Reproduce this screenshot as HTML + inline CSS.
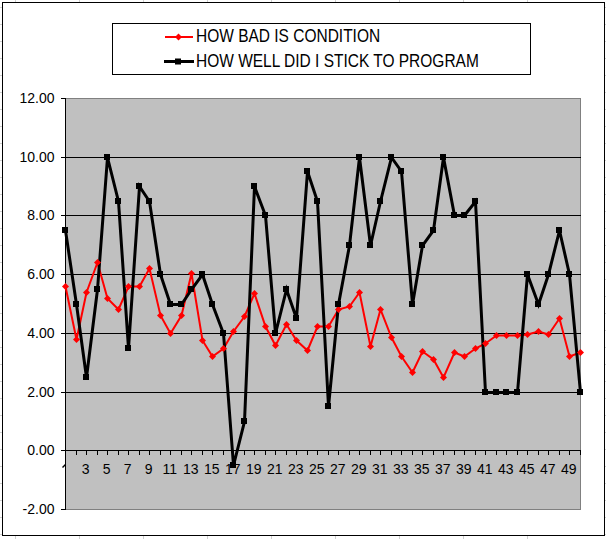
<!DOCTYPE html><html><head><meta charset="utf-8"><style>html,body{margin:0;padding:0;background:#fff;}svg{display:block;font-family:"Liberation Sans",sans-serif;}</style></head><body>
<svg width="606" height="539" viewBox="0 0 606 539">
<rect x="0" y="0" width="606" height="539" fill="#fff"/>
<rect x="15" y="0" width="1" height="2" fill="#d0d0d0"/>
<rect x="15" y="536" width="1" height="3" fill="#d0d0d0"/>
<rect x="79" y="0" width="1" height="2" fill="#d0d0d0"/>
<rect x="79" y="536" width="1" height="3" fill="#d0d0d0"/>
<rect x="143" y="0" width="1" height="2" fill="#d0d0d0"/>
<rect x="143" y="536" width="1" height="3" fill="#d0d0d0"/>
<rect x="207" y="0" width="1" height="2" fill="#d0d0d0"/>
<rect x="207" y="536" width="1" height="3" fill="#d0d0d0"/>
<rect x="271" y="0" width="1" height="2" fill="#d0d0d0"/>
<rect x="271" y="536" width="1" height="3" fill="#d0d0d0"/>
<rect x="335" y="0" width="1" height="2" fill="#d0d0d0"/>
<rect x="335" y="536" width="1" height="3" fill="#d0d0d0"/>
<rect x="399" y="0" width="1" height="2" fill="#d0d0d0"/>
<rect x="399" y="536" width="1" height="3" fill="#d0d0d0"/>
<rect x="463" y="0" width="1" height="2" fill="#d0d0d0"/>
<rect x="463" y="536" width="1" height="3" fill="#d0d0d0"/>
<rect x="527" y="0" width="1" height="2" fill="#d0d0d0"/>
<rect x="527" y="536" width="1" height="3" fill="#d0d0d0"/>
<rect x="0" y="7" width="2" height="1" fill="#d0d0d0"/>
<rect x="605" y="7" width="1" height="1" fill="#d0d0d0"/>
<rect x="0" y="24" width="2" height="1" fill="#d0d0d0"/>
<rect x="605" y="24" width="1" height="1" fill="#d0d0d0"/>
<rect x="0" y="41" width="2" height="1" fill="#d0d0d0"/>
<rect x="605" y="41" width="1" height="1" fill="#d0d0d0"/>
<rect x="0" y="58" width="2" height="1" fill="#d0d0d0"/>
<rect x="605" y="58" width="1" height="1" fill="#d0d0d0"/>
<rect x="0" y="75" width="2" height="1" fill="#d0d0d0"/>
<rect x="605" y="75" width="1" height="1" fill="#d0d0d0"/>
<rect x="0" y="92" width="2" height="1" fill="#d0d0d0"/>
<rect x="605" y="92" width="1" height="1" fill="#d0d0d0"/>
<rect x="0" y="109" width="2" height="1" fill="#d0d0d0"/>
<rect x="605" y="109" width="1" height="1" fill="#d0d0d0"/>
<rect x="0" y="126" width="2" height="1" fill="#d0d0d0"/>
<rect x="605" y="126" width="1" height="1" fill="#d0d0d0"/>
<rect x="0" y="143" width="2" height="1" fill="#d0d0d0"/>
<rect x="605" y="143" width="1" height="1" fill="#d0d0d0"/>
<rect x="0" y="160" width="2" height="1" fill="#d0d0d0"/>
<rect x="605" y="160" width="1" height="1" fill="#d0d0d0"/>
<rect x="0" y="177" width="2" height="1" fill="#d0d0d0"/>
<rect x="605" y="177" width="1" height="1" fill="#d0d0d0"/>
<rect x="0" y="194" width="2" height="1" fill="#d0d0d0"/>
<rect x="605" y="194" width="1" height="1" fill="#d0d0d0"/>
<rect x="0" y="211" width="2" height="1" fill="#d0d0d0"/>
<rect x="605" y="211" width="1" height="1" fill="#d0d0d0"/>
<rect x="0" y="228" width="2" height="1" fill="#d0d0d0"/>
<rect x="605" y="228" width="1" height="1" fill="#d0d0d0"/>
<rect x="0" y="245" width="2" height="1" fill="#d0d0d0"/>
<rect x="605" y="245" width="1" height="1" fill="#d0d0d0"/>
<rect x="0" y="262" width="2" height="1" fill="#d0d0d0"/>
<rect x="605" y="262" width="1" height="1" fill="#d0d0d0"/>
<rect x="0" y="279" width="2" height="1" fill="#d0d0d0"/>
<rect x="605" y="279" width="1" height="1" fill="#d0d0d0"/>
<rect x="0" y="296" width="2" height="1" fill="#d0d0d0"/>
<rect x="605" y="296" width="1" height="1" fill="#d0d0d0"/>
<rect x="0" y="313" width="2" height="1" fill="#d0d0d0"/>
<rect x="605" y="313" width="1" height="1" fill="#d0d0d0"/>
<rect x="0" y="330" width="2" height="1" fill="#d0d0d0"/>
<rect x="605" y="330" width="1" height="1" fill="#d0d0d0"/>
<rect x="0" y="347" width="2" height="1" fill="#d0d0d0"/>
<rect x="605" y="347" width="1" height="1" fill="#d0d0d0"/>
<rect x="0" y="364" width="2" height="1" fill="#d0d0d0"/>
<rect x="605" y="364" width="1" height="1" fill="#d0d0d0"/>
<rect x="0" y="381" width="2" height="1" fill="#d0d0d0"/>
<rect x="605" y="381" width="1" height="1" fill="#d0d0d0"/>
<rect x="0" y="398" width="2" height="1" fill="#d0d0d0"/>
<rect x="605" y="398" width="1" height="1" fill="#d0d0d0"/>
<rect x="0" y="415" width="2" height="1" fill="#d0d0d0"/>
<rect x="605" y="415" width="1" height="1" fill="#d0d0d0"/>
<rect x="0" y="432" width="2" height="1" fill="#d0d0d0"/>
<rect x="605" y="432" width="1" height="1" fill="#d0d0d0"/>
<rect x="0" y="449" width="2" height="1" fill="#d0d0d0"/>
<rect x="605" y="449" width="1" height="1" fill="#d0d0d0"/>
<rect x="0" y="466" width="2" height="1" fill="#d0d0d0"/>
<rect x="605" y="466" width="1" height="1" fill="#d0d0d0"/>
<rect x="0" y="483" width="2" height="1" fill="#d0d0d0"/>
<rect x="605" y="483" width="1" height="1" fill="#d0d0d0"/>
<rect x="0" y="500" width="2" height="1" fill="#d0d0d0"/>
<rect x="605" y="500" width="1" height="1" fill="#d0d0d0"/>
<rect x="0" y="517" width="2" height="1" fill="#d0d0d0"/>
<rect x="605" y="517" width="1" height="1" fill="#d0d0d0"/>
<rect x="0" y="534" width="2" height="1" fill="#d0d0d0"/>
<rect x="605" y="534" width="1" height="1" fill="#d0d0d0"/>
<rect x="2.5" y="2.5" width="602" height="533" fill="none" stroke="#000" stroke-width="1"/>
<rect x="65.5" y="98.5" width="515" height="411" fill="#c0c0c0" stroke="#808080" stroke-width="1"/>
<line x1="65" y1="157.5" x2="581" y2="157.5" stroke="#000" stroke-width="1"/>
<line x1="65" y1="215.5" x2="581" y2="215.5" stroke="#000" stroke-width="1"/>
<line x1="65" y1="274.5" x2="581" y2="274.5" stroke="#000" stroke-width="1"/>
<line x1="65" y1="333.5" x2="581" y2="333.5" stroke="#000" stroke-width="1"/>
<line x1="65" y1="392.5" x2="581" y2="392.5" stroke="#000" stroke-width="1"/>
<line x1="65.5" y1="98" x2="65.5" y2="510" stroke="#000" stroke-width="1"/>
<line x1="61" y1="98.5" x2="66" y2="98.5" stroke="#000" stroke-width="1"/>
<line x1="61" y1="157.5" x2="66" y2="157.5" stroke="#000" stroke-width="1"/>
<line x1="61" y1="215.5" x2="66" y2="215.5" stroke="#000" stroke-width="1"/>
<line x1="61" y1="274.5" x2="66" y2="274.5" stroke="#000" stroke-width="1"/>
<line x1="61" y1="333.5" x2="66" y2="333.5" stroke="#000" stroke-width="1"/>
<line x1="61" y1="392.5" x2="66" y2="392.5" stroke="#000" stroke-width="1"/>
<line x1="61" y1="450.5" x2="66" y2="450.5" stroke="#000" stroke-width="1"/>
<line x1="61" y1="509.5" x2="66" y2="509.5" stroke="#000" stroke-width="1"/>
<line x1="65" y1="450.5" x2="581" y2="450.5" stroke="#000" stroke-width="1"/>
<line x1="76.5" y1="450" x2="76.5" y2="455" stroke="#000" stroke-width="1"/>
<line x1="86.5" y1="450" x2="86.5" y2="455" stroke="#000" stroke-width="1"/>
<line x1="97.5" y1="450" x2="97.5" y2="455" stroke="#000" stroke-width="1"/>
<line x1="107.5" y1="450" x2="107.5" y2="455" stroke="#000" stroke-width="1"/>
<line x1="118.5" y1="450" x2="118.5" y2="455" stroke="#000" stroke-width="1"/>
<line x1="128.5" y1="450" x2="128.5" y2="455" stroke="#000" stroke-width="1"/>
<line x1="139.5" y1="450" x2="139.5" y2="455" stroke="#000" stroke-width="1"/>
<line x1="149.5" y1="450" x2="149.5" y2="455" stroke="#000" stroke-width="1"/>
<line x1="160.5" y1="450" x2="160.5" y2="455" stroke="#000" stroke-width="1"/>
<line x1="170.5" y1="450" x2="170.5" y2="455" stroke="#000" stroke-width="1"/>
<line x1="181.5" y1="450" x2="181.5" y2="455" stroke="#000" stroke-width="1"/>
<line x1="191.5" y1="450" x2="191.5" y2="455" stroke="#000" stroke-width="1"/>
<line x1="202.5" y1="450" x2="202.5" y2="455" stroke="#000" stroke-width="1"/>
<line x1="212.5" y1="450" x2="212.5" y2="455" stroke="#000" stroke-width="1"/>
<line x1="223.5" y1="450" x2="223.5" y2="455" stroke="#000" stroke-width="1"/>
<line x1="233.5" y1="450" x2="233.5" y2="455" stroke="#000" stroke-width="1"/>
<line x1="244.5" y1="450" x2="244.5" y2="455" stroke="#000" stroke-width="1"/>
<line x1="254.5" y1="450" x2="254.5" y2="455" stroke="#000" stroke-width="1"/>
<line x1="265.5" y1="450" x2="265.5" y2="455" stroke="#000" stroke-width="1"/>
<line x1="275.5" y1="450" x2="275.5" y2="455" stroke="#000" stroke-width="1"/>
<line x1="286.5" y1="450" x2="286.5" y2="455" stroke="#000" stroke-width="1"/>
<line x1="296.5" y1="450" x2="296.5" y2="455" stroke="#000" stroke-width="1"/>
<line x1="307.5" y1="450" x2="307.5" y2="455" stroke="#000" stroke-width="1"/>
<line x1="317.5" y1="450" x2="317.5" y2="455" stroke="#000" stroke-width="1"/>
<line x1="328.5" y1="450" x2="328.5" y2="455" stroke="#000" stroke-width="1"/>
<line x1="338.5" y1="450" x2="338.5" y2="455" stroke="#000" stroke-width="1"/>
<line x1="349.5" y1="450" x2="349.5" y2="455" stroke="#000" stroke-width="1"/>
<line x1="359.5" y1="450" x2="359.5" y2="455" stroke="#000" stroke-width="1"/>
<line x1="370.5" y1="450" x2="370.5" y2="455" stroke="#000" stroke-width="1"/>
<line x1="380.5" y1="450" x2="380.5" y2="455" stroke="#000" stroke-width="1"/>
<line x1="391.5" y1="450" x2="391.5" y2="455" stroke="#000" stroke-width="1"/>
<line x1="401.5" y1="450" x2="401.5" y2="455" stroke="#000" stroke-width="1"/>
<line x1="412.5" y1="450" x2="412.5" y2="455" stroke="#000" stroke-width="1"/>
<line x1="422.5" y1="450" x2="422.5" y2="455" stroke="#000" stroke-width="1"/>
<line x1="433.5" y1="450" x2="433.5" y2="455" stroke="#000" stroke-width="1"/>
<line x1="443.5" y1="450" x2="443.5" y2="455" stroke="#000" stroke-width="1"/>
<line x1="454.5" y1="450" x2="454.5" y2="455" stroke="#000" stroke-width="1"/>
<line x1="464.5" y1="450" x2="464.5" y2="455" stroke="#000" stroke-width="1"/>
<line x1="475.5" y1="450" x2="475.5" y2="455" stroke="#000" stroke-width="1"/>
<line x1="485.5" y1="450" x2="485.5" y2="455" stroke="#000" stroke-width="1"/>
<line x1="496.5" y1="450" x2="496.5" y2="455" stroke="#000" stroke-width="1"/>
<line x1="506.5" y1="450" x2="506.5" y2="455" stroke="#000" stroke-width="1"/>
<line x1="517.5" y1="450" x2="517.5" y2="455" stroke="#000" stroke-width="1"/>
<line x1="527.5" y1="450" x2="527.5" y2="455" stroke="#000" stroke-width="1"/>
<line x1="538.5" y1="450" x2="538.5" y2="455" stroke="#000" stroke-width="1"/>
<line x1="548.5" y1="450" x2="548.5" y2="455" stroke="#000" stroke-width="1"/>
<line x1="559.5" y1="450" x2="559.5" y2="455" stroke="#000" stroke-width="1"/>
<line x1="569.5" y1="450" x2="569.5" y2="455" stroke="#000" stroke-width="1"/>
<line x1="580.5" y1="450" x2="580.5" y2="455" stroke="#000" stroke-width="1"/>
<text x="54.5" y="103" font-size="14" text-anchor="end" fill="#000">12.00</text>
<text x="54.5" y="162" font-size="14" text-anchor="end" fill="#000">10.00</text>
<text x="54.5" y="220" font-size="14" text-anchor="end" fill="#000">8.00</text>
<text x="54.5" y="279" font-size="14" text-anchor="end" fill="#000">6.00</text>
<text x="54.5" y="338" font-size="14" text-anchor="end" fill="#000">4.00</text>
<text x="54.5" y="397" font-size="14" text-anchor="end" fill="#000">2.00</text>
<text x="54.5" y="455" font-size="14" text-anchor="end" fill="#000">0.00</text>
<text x="54.5" y="514" font-size="14" text-anchor="end" fill="#000">-2.00</text>
<text x="85.70" y="473.8" font-size="14" text-anchor="middle" fill="#000">3</text>
<text x="106.70" y="473.8" font-size="14" text-anchor="middle" fill="#000">5</text>
<text x="127.70" y="473.8" font-size="14" text-anchor="middle" fill="#000">7</text>
<text x="148.70" y="473.8" font-size="14" text-anchor="middle" fill="#000">9</text>
<text x="169.70" y="473.8" font-size="14" text-anchor="middle" fill="#000">11</text>
<text x="190.70" y="473.8" font-size="14" text-anchor="middle" fill="#000">13</text>
<text x="211.70" y="473.8" font-size="14" text-anchor="middle" fill="#000">15</text>
<text x="232.70" y="473.8" font-size="14" text-anchor="middle" fill="#000">17</text>
<text x="253.70" y="473.8" font-size="14" text-anchor="middle" fill="#000">19</text>
<text x="274.70" y="473.8" font-size="14" text-anchor="middle" fill="#000">21</text>
<text x="295.70" y="473.8" font-size="14" text-anchor="middle" fill="#000">23</text>
<text x="316.70" y="473.8" font-size="14" text-anchor="middle" fill="#000">25</text>
<text x="337.70" y="473.8" font-size="14" text-anchor="middle" fill="#000">27</text>
<text x="358.70" y="473.8" font-size="14" text-anchor="middle" fill="#000">29</text>
<text x="379.70" y="473.8" font-size="14" text-anchor="middle" fill="#000">31</text>
<text x="400.70" y="473.8" font-size="14" text-anchor="middle" fill="#000">33</text>
<text x="421.70" y="473.8" font-size="14" text-anchor="middle" fill="#000">35</text>
<text x="442.70" y="473.8" font-size="14" text-anchor="middle" fill="#000">37</text>
<text x="463.70" y="473.8" font-size="14" text-anchor="middle" fill="#000">39</text>
<text x="484.70" y="473.8" font-size="14" text-anchor="middle" fill="#000">41</text>
<text x="505.70" y="473.8" font-size="14" text-anchor="middle" fill="#000">43</text>
<text x="526.70" y="473.8" font-size="14" text-anchor="middle" fill="#000">45</text>
<text x="547.70" y="473.8" font-size="14" text-anchor="middle" fill="#000">47</text>
<text x="568.70" y="473.8" font-size="14" text-anchor="middle" fill="#000">49</text>
<path d="M62 467L65 464L65 466L63 468Z" fill="#000"/>
<polyline points="65.50,286.50 76.50,339.50 86.50,292.50 97.50,262.50 107.50,298.50 118.50,309.50 128.50,286.50 139.50,286.50 149.50,268.50 160.50,315.50 170.50,333.50 181.50,315.50 191.50,273.50 202.50,340.50 212.50,356.50 223.50,348.50 233.50,331.50 244.50,316.50 254.50,293.50 265.50,326.50 275.50,345.50 286.50,324.50 296.50,340.50 307.50,350.50 317.50,326.50 328.50,326.50 338.50,309.50 349.50,306.50 359.50,292.50 370.50,346.50 380.50,309.50 391.50,337.50 401.50,356.50 412.50,372.50 422.50,351.50 433.50,359.50 443.50,377.50 454.50,352.50 464.50,356.50 475.50,348.50 485.50,343.50 496.50,335.50 506.50,335.50 517.50,335.50 527.50,334.50 538.50,331.50 548.50,334.50 559.50,318.50 569.50,356.50 580.50,352.50" fill="none" stroke="#ff0000" stroke-width="2" stroke-linejoin="miter"/>
<polyline points="65.50,230.50 76.50,304.50 86.50,377.50 97.50,289.50 107.50,157.50 118.50,201.50 128.50,348.50 139.50,186.50 149.50,201.50 160.50,274.50 170.50,304.50 181.50,304.50 191.50,289.50 202.50,274.50 212.50,304.50 223.50,333.50 233.50,465.50 244.50,421.50 254.50,186.50 265.50,215.50 275.50,333.50 286.50,289.50 296.50,318.50 307.50,171.50 317.50,201.50 328.50,406.50 338.50,304.50 349.50,245.50 359.50,157.50 370.50,245.50 380.50,201.50 391.50,157.50 401.50,171.50 412.50,304.50 422.50,245.50 433.50,230.50 443.50,157.50 454.50,215.50 464.50,215.50 475.50,201.50 485.50,392.50 496.50,392.50 506.50,392.50 517.50,392.50 527.50,274.50 538.50,304.50 548.50,274.50 559.50,230.50 569.50,274.50 580.50,392.50" fill="none" stroke="#000" stroke-width="3" stroke-linejoin="miter"/>
<path d="M65.50 283.00L69.00 286.50L65.50 290.00L62.00 286.50Z" fill="#ff0000"/>
<path d="M76.50 336.00L80.00 339.50L76.50 343.00L73.00 339.50Z" fill="#ff0000"/>
<path d="M86.50 289.00L90.00 292.50L86.50 296.00L83.00 292.50Z" fill="#ff0000"/>
<path d="M97.50 259.00L101.00 262.50L97.50 266.00L94.00 262.50Z" fill="#ff0000"/>
<path d="M107.50 295.00L111.00 298.50L107.50 302.00L104.00 298.50Z" fill="#ff0000"/>
<path d="M118.50 306.00L122.00 309.50L118.50 313.00L115.00 309.50Z" fill="#ff0000"/>
<path d="M128.50 283.00L132.00 286.50L128.50 290.00L125.00 286.50Z" fill="#ff0000"/>
<path d="M139.50 283.00L143.00 286.50L139.50 290.00L136.00 286.50Z" fill="#ff0000"/>
<path d="M149.50 265.00L153.00 268.50L149.50 272.00L146.00 268.50Z" fill="#ff0000"/>
<path d="M160.50 312.00L164.00 315.50L160.50 319.00L157.00 315.50Z" fill="#ff0000"/>
<path d="M170.50 330.00L174.00 333.50L170.50 337.00L167.00 333.50Z" fill="#ff0000"/>
<path d="M181.50 312.00L185.00 315.50L181.50 319.00L178.00 315.50Z" fill="#ff0000"/>
<path d="M191.50 270.00L195.00 273.50L191.50 277.00L188.00 273.50Z" fill="#ff0000"/>
<path d="M202.50 337.00L206.00 340.50L202.50 344.00L199.00 340.50Z" fill="#ff0000"/>
<path d="M212.50 353.00L216.00 356.50L212.50 360.00L209.00 356.50Z" fill="#ff0000"/>
<path d="M223.50 345.00L227.00 348.50L223.50 352.00L220.00 348.50Z" fill="#ff0000"/>
<path d="M233.50 328.00L237.00 331.50L233.50 335.00L230.00 331.50Z" fill="#ff0000"/>
<path d="M244.50 313.00L248.00 316.50L244.50 320.00L241.00 316.50Z" fill="#ff0000"/>
<path d="M254.50 290.00L258.00 293.50L254.50 297.00L251.00 293.50Z" fill="#ff0000"/>
<path d="M265.50 323.00L269.00 326.50L265.50 330.00L262.00 326.50Z" fill="#ff0000"/>
<path d="M275.50 342.00L279.00 345.50L275.50 349.00L272.00 345.50Z" fill="#ff0000"/>
<path d="M286.50 321.00L290.00 324.50L286.50 328.00L283.00 324.50Z" fill="#ff0000"/>
<path d="M296.50 337.00L300.00 340.50L296.50 344.00L293.00 340.50Z" fill="#ff0000"/>
<path d="M307.50 347.00L311.00 350.50L307.50 354.00L304.00 350.50Z" fill="#ff0000"/>
<path d="M317.50 323.00L321.00 326.50L317.50 330.00L314.00 326.50Z" fill="#ff0000"/>
<path d="M328.50 323.00L332.00 326.50L328.50 330.00L325.00 326.50Z" fill="#ff0000"/>
<path d="M338.50 306.00L342.00 309.50L338.50 313.00L335.00 309.50Z" fill="#ff0000"/>
<path d="M349.50 303.00L353.00 306.50L349.50 310.00L346.00 306.50Z" fill="#ff0000"/>
<path d="M359.50 289.00L363.00 292.50L359.50 296.00L356.00 292.50Z" fill="#ff0000"/>
<path d="M370.50 343.00L374.00 346.50L370.50 350.00L367.00 346.50Z" fill="#ff0000"/>
<path d="M380.50 306.00L384.00 309.50L380.50 313.00L377.00 309.50Z" fill="#ff0000"/>
<path d="M391.50 334.00L395.00 337.50L391.50 341.00L388.00 337.50Z" fill="#ff0000"/>
<path d="M401.50 353.00L405.00 356.50L401.50 360.00L398.00 356.50Z" fill="#ff0000"/>
<path d="M412.50 369.00L416.00 372.50L412.50 376.00L409.00 372.50Z" fill="#ff0000"/>
<path d="M422.50 348.00L426.00 351.50L422.50 355.00L419.00 351.50Z" fill="#ff0000"/>
<path d="M433.50 356.00L437.00 359.50L433.50 363.00L430.00 359.50Z" fill="#ff0000"/>
<path d="M443.50 374.00L447.00 377.50L443.50 381.00L440.00 377.50Z" fill="#ff0000"/>
<path d="M454.50 349.00L458.00 352.50L454.50 356.00L451.00 352.50Z" fill="#ff0000"/>
<path d="M464.50 353.00L468.00 356.50L464.50 360.00L461.00 356.50Z" fill="#ff0000"/>
<path d="M475.50 345.00L479.00 348.50L475.50 352.00L472.00 348.50Z" fill="#ff0000"/>
<path d="M485.50 340.00L489.00 343.50L485.50 347.00L482.00 343.50Z" fill="#ff0000"/>
<path d="M496.50 332.00L500.00 335.50L496.50 339.00L493.00 335.50Z" fill="#ff0000"/>
<path d="M506.50 332.00L510.00 335.50L506.50 339.00L503.00 335.50Z" fill="#ff0000"/>
<path d="M517.50 332.00L521.00 335.50L517.50 339.00L514.00 335.50Z" fill="#ff0000"/>
<path d="M527.50 331.00L531.00 334.50L527.50 338.00L524.00 334.50Z" fill="#ff0000"/>
<path d="M538.50 328.00L542.00 331.50L538.50 335.00L535.00 331.50Z" fill="#ff0000"/>
<path d="M548.50 331.00L552.00 334.50L548.50 338.00L545.00 334.50Z" fill="#ff0000"/>
<path d="M559.50 315.00L563.00 318.50L559.50 322.00L556.00 318.50Z" fill="#ff0000"/>
<path d="M569.50 353.00L573.00 356.50L569.50 360.00L566.00 356.50Z" fill="#ff0000"/>
<path d="M580.50 349.00L584.00 352.50L580.50 356.00L577.00 352.50Z" fill="#ff0000"/>
<rect x="62.00" y="227.00" width="6" height="6" fill="#000"/>
<rect x="73.00" y="301.00" width="6" height="6" fill="#000"/>
<rect x="83.00" y="374.00" width="6" height="6" fill="#000"/>
<rect x="94.00" y="286.00" width="6" height="6" fill="#000"/>
<rect x="104.00" y="154.00" width="6" height="6" fill="#000"/>
<rect x="115.00" y="198.00" width="6" height="6" fill="#000"/>
<rect x="125.00" y="345.00" width="6" height="6" fill="#000"/>
<rect x="136.00" y="183.00" width="6" height="6" fill="#000"/>
<rect x="146.00" y="198.00" width="6" height="6" fill="#000"/>
<rect x="157.00" y="271.00" width="6" height="6" fill="#000"/>
<rect x="167.00" y="301.00" width="6" height="6" fill="#000"/>
<rect x="178.00" y="301.00" width="6" height="6" fill="#000"/>
<rect x="188.00" y="286.00" width="6" height="6" fill="#000"/>
<rect x="199.00" y="271.00" width="6" height="6" fill="#000"/>
<rect x="209.00" y="301.00" width="6" height="6" fill="#000"/>
<rect x="220.00" y="330.00" width="6" height="6" fill="#000"/>
<rect x="230.00" y="462.00" width="6" height="6" fill="#000"/>
<rect x="241.00" y="418.00" width="6" height="6" fill="#000"/>
<rect x="251.00" y="183.00" width="6" height="6" fill="#000"/>
<rect x="262.00" y="212.00" width="6" height="6" fill="#000"/>
<rect x="272.00" y="330.00" width="6" height="6" fill="#000"/>
<rect x="283.00" y="286.00" width="6" height="6" fill="#000"/>
<rect x="293.00" y="315.00" width="6" height="6" fill="#000"/>
<rect x="304.00" y="168.00" width="6" height="6" fill="#000"/>
<rect x="314.00" y="198.00" width="6" height="6" fill="#000"/>
<rect x="325.00" y="403.00" width="6" height="6" fill="#000"/>
<rect x="335.00" y="301.00" width="6" height="6" fill="#000"/>
<rect x="346.00" y="242.00" width="6" height="6" fill="#000"/>
<rect x="356.00" y="154.00" width="6" height="6" fill="#000"/>
<rect x="367.00" y="242.00" width="6" height="6" fill="#000"/>
<rect x="377.00" y="198.00" width="6" height="6" fill="#000"/>
<rect x="388.00" y="154.00" width="6" height="6" fill="#000"/>
<rect x="398.00" y="168.00" width="6" height="6" fill="#000"/>
<rect x="409.00" y="301.00" width="6" height="6" fill="#000"/>
<rect x="419.00" y="242.00" width="6" height="6" fill="#000"/>
<rect x="430.00" y="227.00" width="6" height="6" fill="#000"/>
<rect x="440.00" y="154.00" width="6" height="6" fill="#000"/>
<rect x="451.00" y="212.00" width="6" height="6" fill="#000"/>
<rect x="461.00" y="212.00" width="6" height="6" fill="#000"/>
<rect x="472.00" y="198.00" width="6" height="6" fill="#000"/>
<rect x="482.00" y="389.00" width="6" height="6" fill="#000"/>
<rect x="493.00" y="389.00" width="6" height="6" fill="#000"/>
<rect x="503.00" y="389.00" width="6" height="6" fill="#000"/>
<rect x="514.00" y="389.00" width="6" height="6" fill="#000"/>
<rect x="524.00" y="271.00" width="6" height="6" fill="#000"/>
<rect x="535.00" y="301.00" width="6" height="6" fill="#000"/>
<rect x="545.00" y="271.00" width="6" height="6" fill="#000"/>
<rect x="556.00" y="227.00" width="6" height="6" fill="#000"/>
<rect x="566.00" y="271.00" width="6" height="6" fill="#000"/>
<rect x="577.00" y="389.00" width="6" height="6" fill="#000"/>
<rect x="112.5" y="23.5" width="418" height="51" fill="#fff" stroke="#000" stroke-width="1"/>
<line x1="165" y1="37" x2="193" y2="37" stroke="#ff0000" stroke-width="2"/>
<path d="M178.5 33.5L182 37L178.5 40.5L175 37Z" fill="#ff0000"/>
<line x1="164" y1="61.5" x2="194" y2="61.5" stroke="#000" stroke-width="3"/>
<rect x="175" y="58.5" width="6" height="6" fill="#000"/>
<text transform="translate(196,41.8) scale(1,1.18)" x="0" y="0" font-size="15.5" fill="#000">HOW BAD IS CONDITION</text>
<text transform="translate(196,66.8) scale(1,1.18)" x="0" y="0" font-size="15.5" fill="#000">HOW WELL DID I STICK TO PROGRAM</text>
</svg></body></html>
